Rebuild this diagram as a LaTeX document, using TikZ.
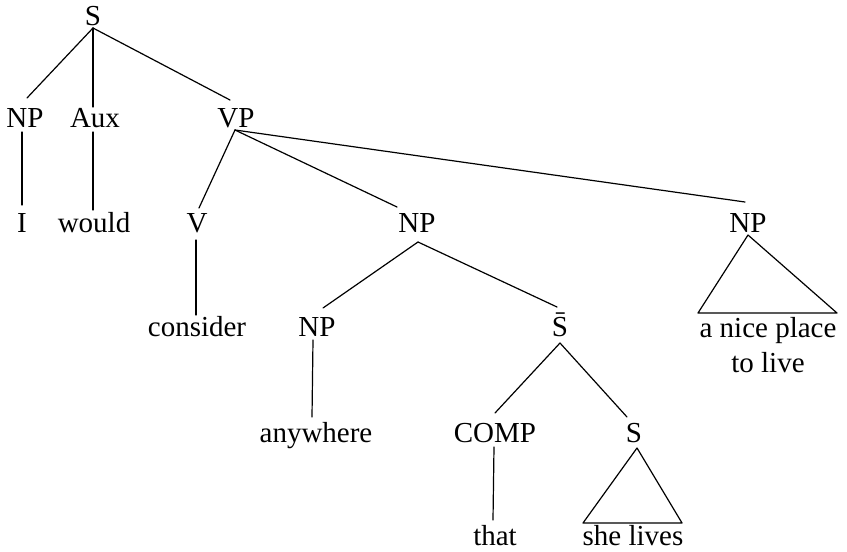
\documentclass[tikz,border=0pt]{standalone}
\usepackage{fontspec}
\setmainfont{Liberation Serif}
\usetikzlibrary{calc}
\begin{document}
\begin{tikzpicture}[x=1pt,y=-1pt,
  lab/.style={anchor=base,inner sep=0pt,font=\fontsize{29}{35}\selectfont},
  branch/.style={line width=1.2pt,line cap=round,line join=round}]
\useasboundingbox (0,0) rectangle (847,552);
% categories and words, placed on their baselines
\node[lab] (S0)   at (93,25)  {S};
\node[lab] (NPa)  at (25,127) {NP};
\node[lab] (Aux)  at (95,127) {Aux};
\node[lab] (VP)   at (236,127) {VP};
\node[lab] (I)    at (22,232) {I};
\node[lab] (would) at (94,232) {would};
\node[lab] (V)    at (197,232) {V};
\node[lab] (NPm)  at (417,232) {NP};
\node[lab] (NPr)  at (748,232) {NP};
\node[lab] (consider) at (197,336) {consider};
\node[lab] (NPl)  at (317,336) {NP};
\node[lab] (Sbar) at (560,336) {\=S};
% two-line node: its base anchor sits on the last line
\node[lab,align=center] (place) at (768,372) {a nice place\\to live};
\node[lab] (anywhere) at (316,442) {anywhere};
\node[lab] (COMP) at (495,442) {COMP};
\node[lab] (Sl)   at (634,442) {S};
\node[lab] (that) at (495,545) {that};
\node[lab] (she)  at (633,545) {she lives};
% branches
\draw[branch] ($(S0.base)+(0,3)$) -- ($(NPa.base)+(2,-29)$);
\draw[branch] ($(S0.base)+(0,3)$) -- ($(Aux.base)+(-2,-20)$);
\draw[branch] ($(S0.base)+(0,3)$) -- ($(VP.base)+(-6,-27)$);
\draw[branch] ($(NPa.base)+(-3,5)$) -- ($(I.base)+(0,-27)$);
\draw[branch] ($(Aux.base)+(-2,5)$) -- ($(would.base)+(-1,-22)$);
\draw[branch] ($(VP.base)+(-1,3)$) -- ($(V.base)+(2,-24)$);
\draw[branch] ($(VP.base)+(-1,3)$) -- ($(NPm.base)+(-20,-25)$);
\draw[branch] ($(VP.base)+(-1,3)$) -- ($(NPr.base)+(-3,-30)$);
\draw[branch] ($(V.base)+(-1,8)$) -- ($(consider.base)+(-1,-21)$);
\draw[branch] ($(NPm.base)+(1,10)$) -- ($(NPl.base)+(6,-28)$);
\draw[branch] ($(NPm.base)+(1,10)$) -- ($(Sbar.base)+(-3,-29)$);
\draw[branch] ($(NPl.base)+(-4,4)$) -- ($(anywhere.base)+(-4,-25)$);
\draw[branch] ($(Sbar.base)+(0,7)$) -- ($(COMP.base)+(0,-29)$);
\draw[branch] ($(Sbar.base)+(0,7)$) -- ($(Sl.base)+(-7,-25)$);
\draw[branch] ($(COMP.base)+(-1,5)$) -- ($(that.base)+(-2,-25)$);
% triangles over unanalysed constituents
\draw[branch] ($(NPr.base)+(0,3)$) -- ($(place.base)+(-70,-59)$) -- ($(place.base)+(69,-59)$) -- cycle;
\draw[branch] ($(Sl.base)+(3,6)$) -- ($(she.base)+(-50,-22)$) -- ($(she.base)+(49,-22)$) -- cycle;
\end{tikzpicture}
\end{document}
